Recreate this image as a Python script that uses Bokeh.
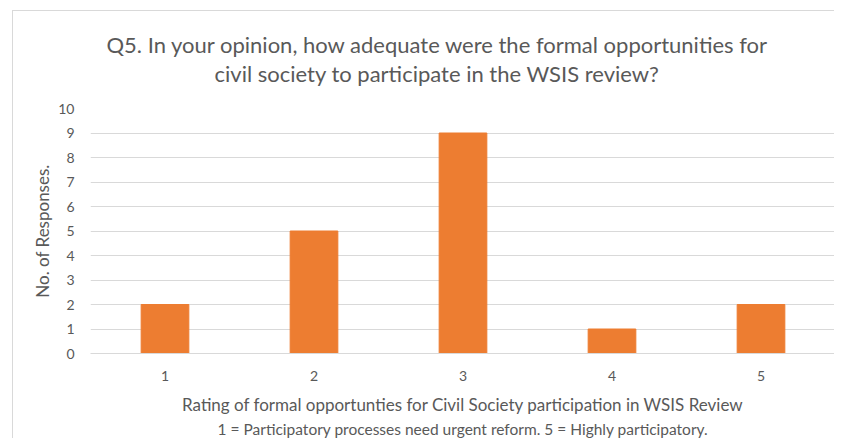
from bokeh.plotting import figure
from bokeh.models import Range1d, Title, FixedTicker
from bokeh.embed import file_html
from bokeh.resources import INLINE

ratings = ["1", "2", "3", "4", "5"]
responses = [2, 5, 9, 1, 2]
y_ticks = list(range(0, 11))
title_lines = ["Q5. In your opinion, how adequate were the formal opportunities for",
               "civil society to participate in the WSIS review?"]

FONT = "Lato"
GREY = "#595959"

p = figure(width=822, height=428, x_range=ratings, y_range=Range1d(0, 10),
           output_backend="svg", toolbar_location=None,
           min_border_left=77, min_border_right=0, min_border_top=97, min_border_bottom=86)
p.margin = (10, 0, 0, 12)
p.styles = {"border-top": "1px solid #D9D9D9", "border-left": "1px solid #D9D9D9"}

p.vbar(x=ratings, top=responses, width=0.32, color="#ED7D31", line_color="#ED7D31")

p.add_layout(Title(text=".", text_font_size="10px", text_color="white", standoff=12), "above")
p.add_layout(Title(text=title_lines[1], align="left", offset=124, standoff=0,
                   text_font=FONT, text_font_size="22px", text_font_style="normal",
                   text_color=GREY), "above")
p.add_layout(Title(text=title_lines[0], align="left", offset=16, standoff=0,
                   text_font=FONT, text_font_size="22px", text_font_style="normal",
                   text_color=GREY), "above")

p.outline_line_color = None
p.xgrid.grid_line_color = None
p.ygrid.grid_line_color = "#D9D9D9"
p.ygrid.grid_line_width = 1
p.yaxis.ticker = FixedTicker(ticks=y_ticks)
p.yaxis.axis_line_color = None
p.yaxis.major_tick_line_color = None
p.yaxis.minor_tick_line_color = None
p.yaxis.major_label_text_font = FONT
p.yaxis.major_label_text_font_size = "14px"
p.yaxis.major_label_text_color = GREY
p.yaxis.major_label_standoff = 10
p.yaxis.axis_label = "No. of Responses."
p.yaxis.axis_label_text_font = FONT
p.yaxis.axis_label_text_font_size = "17px"
p.yaxis.axis_label_text_font_style = "normal"
p.yaxis.axis_label_text_color = GREY
p.yaxis.axis_label_standoff = 2

p.xaxis.axis_line_color = "#D9D9D9"
p.xaxis.major_tick_line_color = None
p.xaxis.minor_tick_line_color = None
p.xaxis.major_label_text_font = FONT
p.xaxis.major_label_text_font_size = "14px"
p.xaxis.major_label_text_color = GREY
p.xaxis.major_label_standoff = 11
p.xaxis.axis_label = "Rating of formal opportunties for Civil Society participation in WSIS Review"
p.xaxis.axis_label_text_font = FONT
p.xaxis.axis_label_text_font_size = "17px"
p.xaxis.axis_label_text_font_style = "normal"
p.xaxis.axis_label_text_color = GREY
p.xaxis.axis_label_standoff = 10

sub = Title(text="1 = Participatory processes need urgent reform. 5 = Highly participatory.",
            align="center", text_font=FONT, text_font_size="15.5px", text_font_style="normal",
            text_color=GREY, standoff=0)
p.add_layout(sub, "below")

open("out.html", "w").write(file_html(p, INLINE))
